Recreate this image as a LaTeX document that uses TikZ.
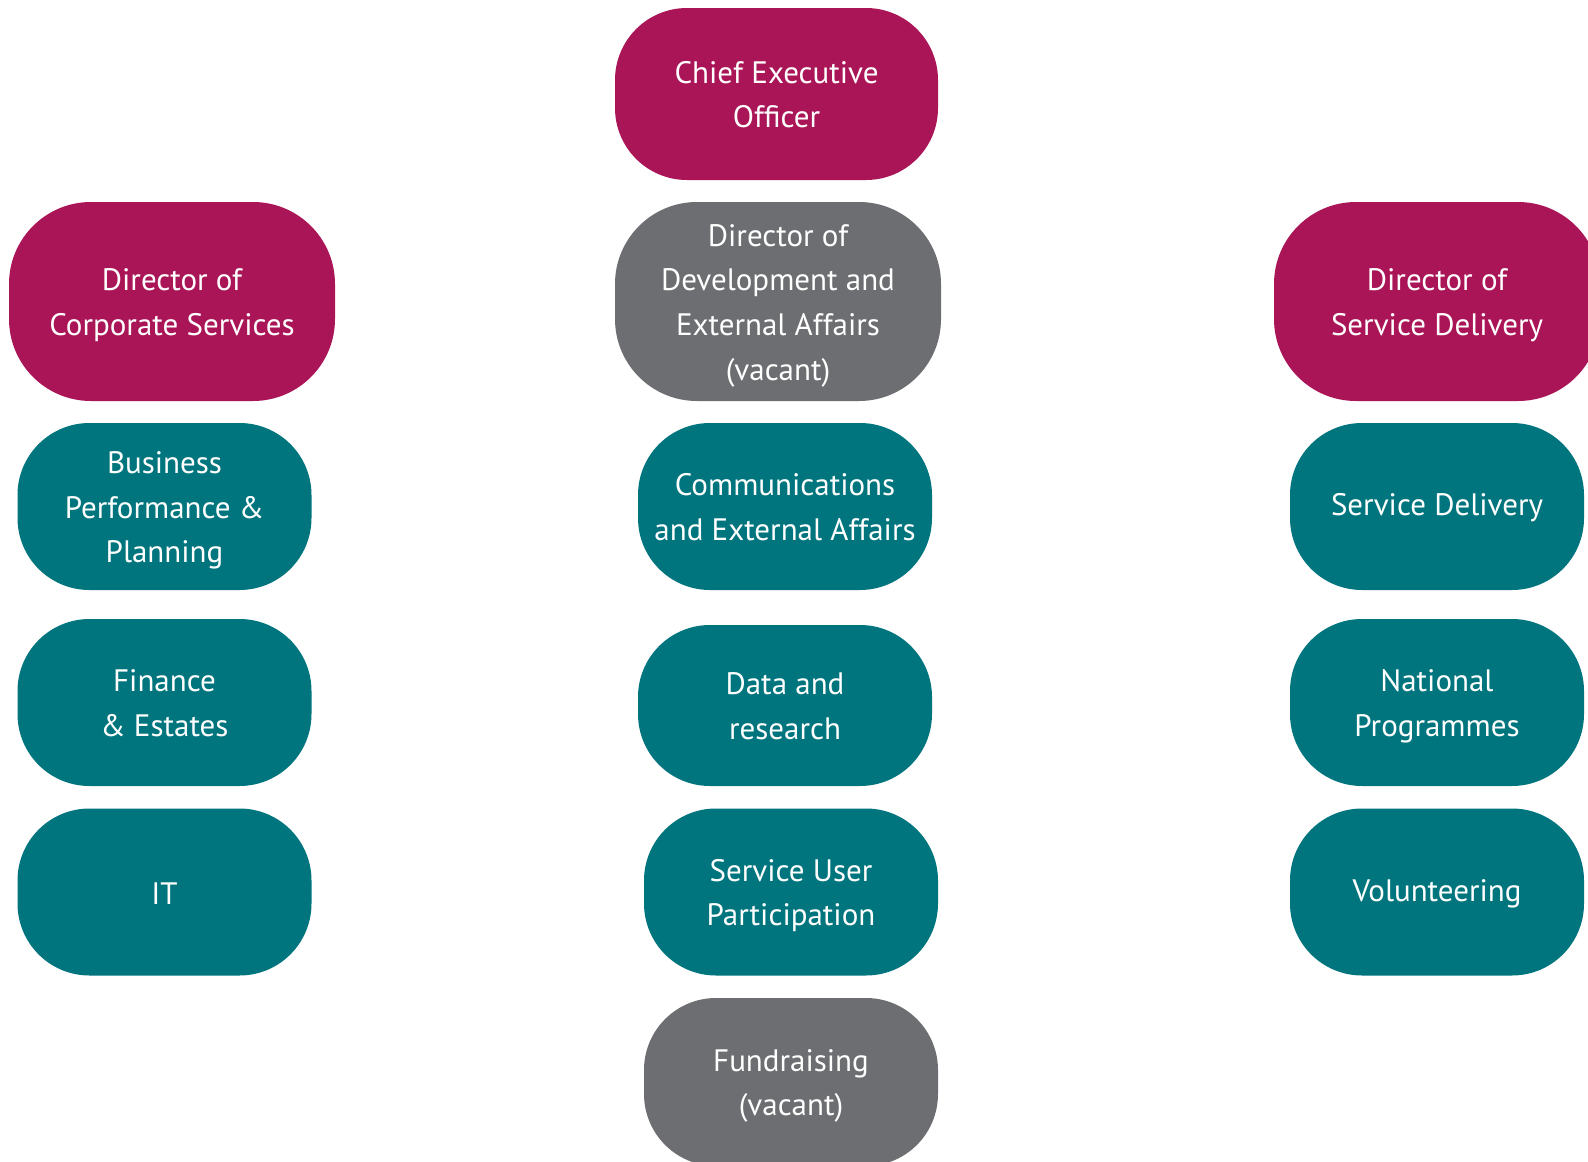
\documentclass[tikz,border=0pt]{standalone}
\usepackage{fontspec}
\setmainfont{PT Sans}
\definecolor{mag}{HTML}{AA1558}
\definecolor{teal}{HTML}{00757E}
\definecolor{gry}{HTML}{6D6E71}
\newcommand\mltext[1]{\raisebox{-2.7pt}[\height][\depth]{\begin{tabular}{@{}c@{}}#1\end{tabular}}}
\newcommand\sltext[1]{\raisebox{-1.5pt}[\height][\depth]{#1}}
\begin{document}
\begin{tikzpicture}[x=1pt,y=-1pt,
  box/.style={rectangle, rounded corners=72pt, text=white, inner sep=0pt,
    font=\fontsize{31}{44.6}\selectfont},
  big/.style={box, minimum width=326pt, minimum height=199pt, rounded corners=82pt},
  small/.style={box, minimum width=294pt, minimum height=167pt},
  magbox/.style={fill=mag},
  tealbox/.style={fill=teal},
  greybox/.style={fill=gry}]
\useasboundingbox (0,0) rectangle (1588,1162);
\clip (0,0) rectangle (1588,1162);
\fill[white] (0,0) rectangle (1588,1162);
\node[box, magbox, minimum width=323pt, minimum height=172pt] (ceo) at (776.5,94) {\mltext{Chief Executive\\Officer}};
\node[big, magbox] (dcs) at (172,301.5) {\mltext{Director of\\Corporate Services}};
\node[big, greybox] (ddev) at (778,301.5) {\mltext{Director of\\Development and\\External Affairs\\(vacant)}};
\node[big, magbox] (dsd) at (1437,301.5) {\mltext{Director of\\Service Delivery}};
\node[small, tealbox] (bpp) at (164.5,506.5) {\mltext{Business\\Performance \&\\Planning}};
\node[small, tealbox] (fin) at (164.5,702.5) {\mltext{Finance\\\& Estates}};
\node[small, tealbox] (it) at (164.5,892) {\sltext{IT}};
\node[small, tealbox] (comm) at (785,506.5) {\mltext{Communications\\and External Affairs}};
\node[small, tealbox, minimum height=161pt] (data) at (785,705.5) {\mltext{Data and\\research}};
\node[small, tealbox] (sup) at (791,892) {\mltext{Service User\\Participation}};
\node[small, greybox, minimum height=168pt] (fund) at (791,1082) {\mltext{Fundraising\\(vacant)}};
\node[small, tealbox] (sd) at (1437,506.5) {\sltext{Service Delivery}};
\node[small, tealbox] (np) at (1437,702.5) {\mltext{National\\Programmes}};
\node[small, tealbox] (vol) at (1437,892) {\sltext{Volunteering}};
\end{tikzpicture}
\end{document}
